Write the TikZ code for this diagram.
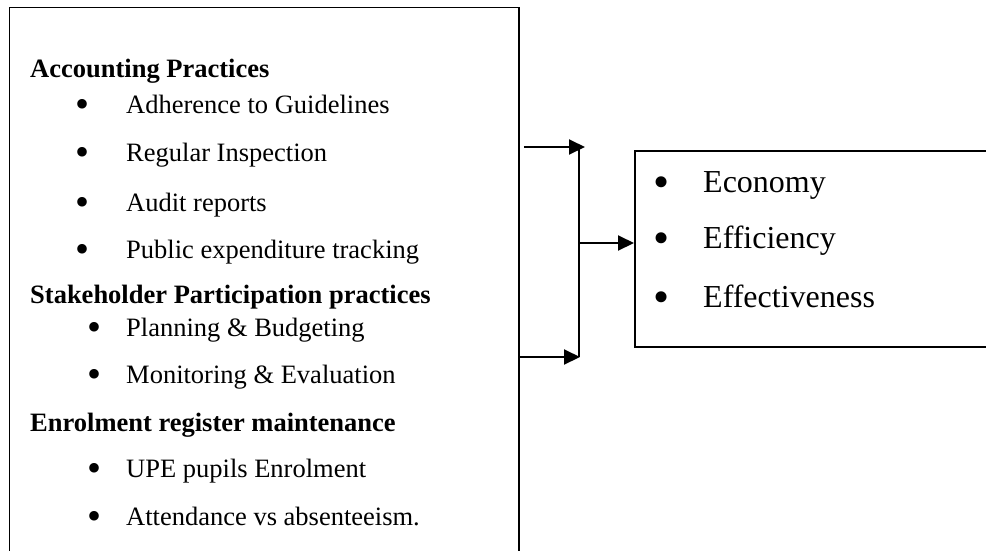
\documentclass[tikz,border=0pt]{standalone}
\usepackage{fontspec}
\setmainfont{Liberation Serif}
\usetikzlibrary{arrows.meta}

\tikzset{
  frame/.style={draw=black, line width=1.5pt, inner sep=0pt},
  head/.style={anchor=base west, inner sep=0pt, font=\fontsize{26.5}{30}\selectfont\bfseries},
  item/.style={anchor=base west, inner sep=0pt, font=\fontsize{26.5}{30}\selectfont},
  dot/.style={anchor=base, inner sep=0pt, yshift=-4.8pt, font=\fontsize{40}{40}\selectfont},
  bigitem/.style={anchor=base west, inner sep=0pt, font=\fontsize{32}{36}\selectfont},
  bigdot/.style={anchor=base, inner sep=0pt, yshift=-5.7pt, font=\fontsize{46}{46}\selectfont},
  flow/.style={draw=black, line width=2pt, -{Triangle[length=16pt, width=15pt]}},
  link/.style={draw=black, line width=2pt}
}

\begin{document}
\begin{tikzpicture}[x=1pt, y=-1pt]
  \useasboundingbox (0,0) rectangle (986,550);
  \clip (0,0) rectangle (986,550);

  % input box (runs past the lower edge)
  \node[frame, minimum width=509.5pt, minimum height=580pt, anchor=north west] (inbox) at (8.75,6.75) {};

  % outcome box (runs past the right edge)
  \node[frame, minimum width=400pt, minimum height=196pt, anchor=north west] (outbox) at (634,150) {};

  % accounting practices
  \node[head] (h1) at (30,77) {Accounting Practices};
  \node[dot] (d11) at (83,113) {•};
  \node[item] (t11) at (126,113) {Adherence to Guidelines};
  \node[dot] (d12) at (83,161) {•};
  \node[item] (t12) at (126,161) {Regular Inspection};
  \node[dot] (d13) at (83,211) {•};
  \node[item] (t13) at (126,211) {Audit reports};
  \node[dot] (d14) at (83,258) {•};
  \node[item] (t14) at (126,258) {Public expenditure tracking};

  % stakeholder participation
  \node[head] (h2) at (30,303) {Stakeholder Participation practices};
  \node[dot] (d21) at (95,336) {•};
  \node[item] (t21) at (126,336) {Planning \& Budgeting};
  \node[dot] (d22) at (95,383) {•};
  \node[item] (t22) at (126,383) {Monitoring \& Evaluation};

  % enrolment register
  \node[head] (h3) at (30,431) {Enrolment register maintenance};
  \node[dot] (d31) at (95,477) {•};
  \node[item] (t31) at (126,477) {UPE pupils Enrolment};
  \node[dot] (d32) at (95,525) {•};
  \node[item] (t32) at (126,525) {Attendance vs absenteeism.};

  % outcomes
  \node[bigdot] (e1) at (662,192) {•};
  \node[bigitem] (o1) at (703,192) {Economy};
  \node[bigdot] (e2) at (662,248) {•};
  \node[bigitem] (o2) at (703,248) {Efficiency};
  \node[bigdot] (e3) at (662,307) {•};
  \node[bigitem] (o3) at (703,307) {Effectiveness};

  % connectors
  \coordinate (jtop) at (579,147);
  \coordinate (jmid) at (579,243);
  \coordinate (jbot) at (579,357);
  \draw[flow] ([xshift=4pt]inbox.east |- jtop) -- ([xshift=6pt]jtop);
  \draw[flow] (inbox.east |- jbot) -- ([xshift=1pt]jbot);
  \draw[link] (jtop) -- (jbot);
  \draw[flow] (jmid) -- (outbox.west |- jmid);
\end{tikzpicture}
\end{document}
